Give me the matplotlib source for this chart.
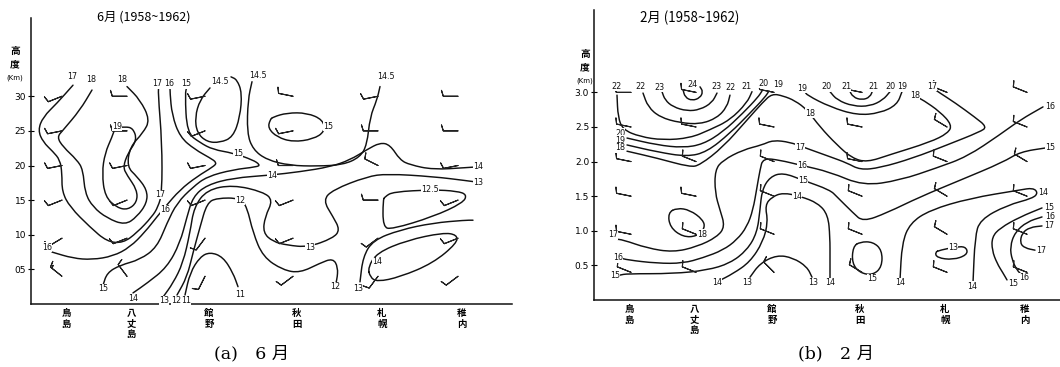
import matplotlib
matplotlib.use("Agg")
import matplotlib.pyplot as plt
from matplotlib.path import Path
from matplotlib.patches import PathPatch

plt.rcParams['font.family'] = ['DejaVu Sans', 'Noto Sans CJK JP']
CJK = ['Noto Sans CJK JP', 'DejaVu Sans']
SERIF = ['DejaVu Serif', 'Noto Sans CJK JP']

# ---------------- data ----------------
STATIONS = ["鳥島", "八丈島", "館野", "秋田", "札幌", "稚内"]
STATION_X = [35, 100, 178, 266, 351, 431]          # position along the section
HEIGHT_TICKS = [0.5, 1.0, 1.5, 2.0, 2.5, 3.0]       # km
JUN_TICK_LABELS = ["05", "10", "15", "20", "25", "30"]
FEB_TICK_LABELS = ["0.5", "1.0", "1.5", "2.0", "2.5", "3.0"]
BARB_H = [0.4, 0.95, 1.5, 2.0, 2.5, 3.0]

# June isolines: (position, height km)
jun_19 = ([84, 81, 74, 71, 74, 86, 97, 106, 106, 96, 92, 97, 106, 102, 94, 84],
          [2.54, 2.41, 2.18, 1.89, 1.55, 1.39, 1.36, 1.47, 1.65, 1.86, 1.98, 2.18, 2.37, 2.54, 2.56, 2.54])
jun_18 = ([61, 49, 32, 26, 32, 46, 52, 54, 62, 76, 94, 106, 116, 116, 106, 96, 99, 112, 119, 109, 96],
          [3.09, 2.80, 2.51, 2.41, 2.27, 2.08, 1.94, 1.60, 1.40, 1.24, 1.14, 1.26, 1.46, 1.65, 1.84, 1.98, 2.27, 2.47, 2.66, 2.95, 3.14])
jun_17 = ([42, 26, 12, 7, 12, 22, 29, 31, 31, 39, 59, 76, 92, 106, 121, 127, 131, 131, 127, 128],
          [3.16, 2.90, 2.70, 2.51, 2.34, 2.20, 2.08, 1.89, 1.62, 1.40, 1.11, 0.90, 0.88, 1.03, 1.26, 1.40, 1.60, 2.33, 3.05, 3.16])
jun_16 = ([21, 42, 61, 82, 99, 114, 126, 134, 149, 166, 182, 186, 179, 164, 149, 141, 139, 139],
          [0.75, 0.66, 0.64, 0.69, 0.82, 1.04, 1.26, 1.40, 1.65, 1.84, 1.98, 2.04, 2.11, 2.23, 2.41, 2.73, 3.05, 3.18])
jun_15 = ([156, 154, 156, 169, 182, 202, 222, 229, 226, 202, 176, 162, 146, 136, 126, 109, 89, 76, 72],
          [3.14, 3.04, 2.47, 2.33, 2.23, 2.18, 2.08, 2.01, 1.98, 1.94, 1.84, 1.69, 1.46, 1.17, 0.82, 0.64, 0.56, 0.45, 0.27])
jun_145a = ([179, 169, 164, 166, 176, 189, 202, 209, 211, 206, 200],
            [3.12, 2.95, 2.70, 2.47, 2.34, 2.33, 2.41, 2.70, 3.05, 3.24, 3.28])
jun_145b = ([221, 217, 216, 222, 236, 259, 286, 312, 329, 336, 339, 346, 349],
            [3.21, 2.95, 2.47, 2.23, 2.08, 2.00, 1.99, 2.01, 2.12, 2.30, 2.70, 2.95, 3.14])
jun_15loop = ([239, 237, 246, 262, 282, 294, 292, 276, 256, 242, 239],
              [2.66, 2.54, 2.41, 2.34, 2.38, 2.49, 2.66, 2.76, 2.76, 2.70, 2.66])
jun_14 = ([102, 116, 136, 149, 156, 162, 176, 202, 239, 269, 299, 319, 336, 349, 359, 369, 379, 402, 436, 446],
          [0.16, 0.30, 0.53, 0.88, 1.26, 1.55, 1.72, 1.82, 1.86, 1.91, 1.98, 2.08, 2.23, 2.33, 2.30, 2.08, 2.01, 1.94, 1.97, 1.98])
jun_13 = ([132, 142, 152, 159, 163, 176, 202, 232, 242, 234, 232, 242, 256, 277, 302, 309, 302, 292, 302, 336, 356, 402, 436, 446],
          [0.10, 0.30, 0.59, 1.03, 1.40, 1.65, 1.72, 1.62, 1.50, 1.26, 1.03, 0.90, 0.85, 0.82, 0.95, 1.07, 1.26, 1.50, 1.65, 1.84, 1.88, 1.84, 1.78, 1.76])
jun_13b = ([329, 332, 342, 369, 402, 434, 442],
           [0.32, 0.68, 0.92, 1.07, 1.17, 1.21, 1.21])
jun_125 = ([352, 352, 361, 402, 432, 436, 426, 402, 362, 354, 352],
           [1.50, 1.11, 1.08, 1.26, 1.46, 1.58, 1.63, 1.65, 1.62, 1.55, 1.50])
jun_14loop = ([339, 346, 369, 402, 426, 426, 412, 376, 346, 337, 339],
              [0.39, 0.32, 0.39, 0.59, 0.88, 1.00, 1.03, 0.92, 0.74, 0.53, 0.39])
jun_12 = ([146, 156, 162, 169, 176, 186, 209, 216, 222, 232, 252, 269, 289, 302, 307, 306, 304],
          [0.13, 0.39, 0.74, 1.11, 1.46, 1.53, 1.53, 1.40, 1.03, 0.68, 0.49, 0.45, 0.59, 0.66, 0.53, 0.35, 0.27])
jun_11 = ([154, 159, 169, 179, 192, 202, 207],
          [0.13, 0.45, 0.68, 0.75, 0.68, 0.45, 0.25])

# February isolines
feb_24 = ([89, 91, 98, 106, 109, 106], [3.04, 2.93, 2.88, 2.92, 3.01, 3.08])
feb_23 = ([68, 71, 79, 93, 106, 118, 123], [3.01, 2.89, 2.79, 2.73, 2.75, 2.85, 2.99])
feb_22a = ([49, 54, 66, 86, 106, 123, 133, 136], [2.99, 2.79, 2.64, 2.56, 2.54, 2.63, 2.79, 2.96])
feb_22b = ([23, 24, 29, 46, 69, 96, 116, 136, 153, 158],
           [2.96, 2.64, 2.46, 2.36, 2.31, 2.34, 2.46, 2.60, 2.85, 3.01])
feb_20a = ([33, 63, 89, 109, 129, 149, 164, 168], [2.34, 2.24, 2.20, 2.25, 2.43, 2.70, 2.93, 3.02])
feb_19a = ([33, 63, 93, 113, 136, 156, 171, 175], [2.24, 2.14, 2.07, 2.14, 2.41, 2.70, 2.93, 3.02])
feb_18 = ([33, 63, 96, 106, 129, 153, 169, 178, 189, 201, 213, 226, 243, 258, 273, 296, 336, 354, 358, 346, 329, 323],
          [2.15, 2.05, 1.92, 1.95, 2.21, 2.60, 2.86, 2.98, 2.95, 2.88, 2.75, 2.50, 2.24, 2.05, 1.99, 2.10, 2.28, 2.41, 2.53, 2.72, 2.89, 2.93])
feb_19b = ([211, 213, 236, 263, 286, 303, 308], [3.01, 2.96, 2.79, 2.67, 2.70, 2.82, 3.01])
feb_20b = ([236, 243, 259, 276, 289, 296], [3.01, 2.89, 2.80, 2.80, 2.89, 3.01])
feb_21 = ([255, 259, 268, 276, 279], [3.04, 2.93, 2.89, 2.93, 3.04])
feb_17 = ([21, 29, 53, 79, 103, 123, 131, 126, 121, 121, 129, 149, 168, 179, 196, 209, 236, 253, 266, 286, 319, 353, 386, 393, 381, 361, 346, 339],
          [0.88, 0.87, 0.75, 0.69, 0.77, 0.91, 1.06, 1.30, 1.55, 1.88, 2.02, 2.17, 2.24, 2.31, 2.28, 2.21, 2.07, 1.98, 1.88, 1.91, 2.05, 2.24, 2.43, 2.50, 2.64, 2.85, 2.99, 3.06])
feb_16 = ([26, 33, 63, 89, 109, 129, 143, 153, 159, 163, 166, 169, 186, 206, 236, 269, 306, 343, 373, 406, 426, 449],
          [0.61, 0.58, 0.53, 0.53, 0.61, 0.72, 0.87, 1.06, 1.30, 1.63, 1.88, 2.05, 2.02, 1.95, 1.85, 1.65, 1.73, 1.91, 2.07, 2.39, 2.60, 2.79])
feb_15 = ([26, 33, 79, 113, 136, 153, 163, 166, 168, 176, 189, 209, 236, 243, 259, 269, 293, 326, 366, 409, 426, 453],
          [0.36, 0.38, 0.38, 0.43, 0.53, 0.72, 0.97, 1.30, 1.59, 1.78, 1.84, 1.73, 1.59, 1.49, 1.26, 1.13, 1.26, 1.49, 1.73, 1.99, 2.14, 2.20])
feb_14a = ([124, 139, 156, 169, 174, 171, 178, 189, 206, 224, 234, 236, 236, 236],
           [0.27, 0.38, 0.55, 0.84, 1.13, 1.37, 1.49, 1.55, 1.50, 1.40, 1.23, 0.91, 0.58, 0.26])
feb_14b = ([306, 308, 316, 336, 376, 426, 439, 444, 439, 413, 386, 381, 379],
           [0.29, 0.82, 1.11, 1.30, 1.47, 1.59, 1.62, 1.55, 1.47, 1.37, 1.16, 0.91, 0.25])
feb_13a = ([156, 166, 183, 199, 213, 218], [0.33, 0.53, 0.65, 0.61, 0.48, 0.33])
feb_13b = ([341, 343, 359, 373, 373, 366, 346, 341], [0.69, 0.61, 0.58, 0.65, 0.75, 0.78, 0.72, 0.69])
feb_15b = ([259, 258, 266, 279, 288, 288, 279, 266, 259], [0.77, 0.53, 0.39, 0.36, 0.48, 0.72, 0.84, 0.84, 0.77])
feb_18b = ([74, 76, 89, 103, 111, 109, 96, 83, 74], [1.26, 1.05, 0.91, 0.92, 1.04, 1.16, 1.30, 1.33, 1.26])
feb_15c = ([448, 426, 406, 398, 398, 403, 409, 413], [1.33, 1.20, 1.04, 0.91, 0.72, 0.53, 0.39, 0.29])
feb_16c = ([448, 433, 421, 416, 418, 423, 428], [1.20, 1.13, 0.98, 0.77, 0.58, 0.43, 0.36])
feb_17c = ([448, 436, 428, 426, 431, 441], [1.07, 1.05, 0.97, 0.82, 0.75, 0.72])

JUN_LINES = [jun_19, jun_18, jun_17, jun_16, jun_15, jun_145a, jun_145b, jun_15loop, jun_14,
             jun_13, jun_13b, jun_125, jun_14loop, jun_12, jun_11]
FEB_LINES = [feb_24, feb_23, feb_22a, feb_22b, feb_20a, feb_19a, feb_18, feb_19b, feb_20b, feb_21,
             feb_17, feb_16, feb_15, feb_14a, feb_14b, feb_13a, feb_13b, feb_15b, feb_18b,
             feb_15c, feb_16c, feb_17c]

# isoline value labels (text, position, height)
JUN_LABELS = [("17", 41, 3.29), ("18", 60, 3.24), ("18", 91, 3.24), ("17", 126, 3.18), ("16", 138, 3.18),
              ("15", 155, 3.18), ("14.5", 189, 3.22), ("14.5", 227, 3.30), ("14.5", 355, 3.28),
              ("19", 86, 2.57), ("17", 129, 1.58), ("16", 134, 1.36), ("15", 207, 2.17),
              ("14", 241, 1.86), ("15", 297, 2.57), ("14", 447, 1.98), ("13", 447, 1.76),
              ("12.5", 399, 1.65), ("12", 209, 1.50), ("13", 279, 0.82), ("14", 346, 0.61),
              ("16", 16, 0.82), ("15", 72, 0.22), ("14", 102, 0.08), ("13", 133, 0.05),
              ("12", 145, 0.05), ("11", 155, 0.05), ("11", 209, 0.13), ("12", 304, 0.25), ("13", 327, 0.22)]
FEB_LABELS = [("22", 23, 3.09), ("22", 47, 3.09), ("23", 65, 3.07), ("24", 98, 3.12), ("23", 122, 3.08),
              ("22", 136, 3.07), ("21", 152, 3.09), ("20", 169, 3.13), ("19", 184, 3.12),
              ("19", 208, 3.06), ("20", 232, 3.08), ("21", 252, 3.08), ("21", 279, 3.08),
              ("20", 296, 3.08), ("19", 308, 3.08), ("18", 321, 2.95), ("17", 338, 3.09),
              ("18", 216, 2.70), ("17", 206, 2.21), ("16", 208, 1.95), ("15", 209, 1.73), ("14", 203, 1.50),
              ("20", 26, 2.41), ("19", 26, 2.31), ("18", 26, 2.20), ("17", 19, 0.94), ("18", 108, 0.95),
              ("16", 24, 0.61), ("15", 21, 0.36), ("14", 123, 0.25), ("13", 153, 0.25), ("13", 219, 0.25),
              ("14", 236, 0.25), ("15", 278, 0.31), ("14", 306, 0.25), ("13", 359, 0.76), ("14", 378, 0.20),
              ("15", 419, 0.24), ("16", 430, 0.32), ("17", 447, 0.71), ("17", 455, 1.08), ("16", 456, 1.21),
              ("15", 455, 1.34), ("14", 449, 1.55), ("15", 456, 2.20), ("16", 456, 2.79)]

# wind barbs (u, v) per station (rows) at BARB_H levels (columns)
JUN_BARB_U = [[10, 10, 10, 10, 10, 10], [6, 10, 10, 10, 10, 10], [4, 6, 10, 10, 10, 10],
              [8, 10, 10, 10, 10, 10], [6, 8, 10, 8, 10, 10], [8, 10, 10, 10, 10, 10]]
JUN_BARB_V = [[-8, 6, 4, 2, 2, 4], [-8, 4, 4, 2, 0, 0], [8, 8, 4, 2, 4, 2],
              [6, 4, 4, 0, 2, -2], [8, 6, 0, -4, 0, 2], [6, 4, 4, 2, 0, 0]]
FEB_BARB_U = [[10, 10, 10, 10, 10, 10], [10, 10, 10, 10, 10, 10], [6, 10, 10, 10, 10, 10],
              [10, 10, 10, 10, 10, 10], [10, 10, 10, 10, 10, 10], [10, 10, 10, 10, 10, 10]]
FEB_BARB_V = [[-4, -2, -2, -2, -2, 0], [-4, -4, -2, -4, -2, -2], [-6, -4, -4, -4, -2, -2],
              [-6, -4, -4, -2, -2, -2], [-4, -6, -6, -4, -6, -4], [-4, -4, -4, -6, -4, -4]]


def smooth_path(xs, hs):
    pts = list(zip(xs, hs))
    closed = pts[0] == pts[-1]
    mid = lambda a, b: ((a[0] + b[0]) / 2.0, (a[1] + b[1]) / 2.0)
    if closed:
        pts = pts[:-1]
        n = len(pts)
        verts = [mid(pts[-1], pts[0])]
        codes = [Path.MOVETO]
        for i in range(n):
            verts += [pts[i], mid(pts[i], pts[(i + 1) % n])]
            codes += [Path.CURVE3, Path.CURVE3]
        return Path(verts, codes)
    n = len(pts)
    verts = [pts[0], mid(pts[0], pts[1])]
    codes = [Path.MOVETO, Path.LINETO]
    for i in range(1, n - 1):
        verts += [pts[i], mid(pts[i], pts[i + 1])]
        codes += [Path.CURVE3, Path.CURVE3]
    verts.append(pts[-1])
    codes.append(Path.LINETO)
    return Path(verts, codes)


def draw_panel(ax, lines, labels, ticklabels, bu, bv, xmax, ymax, barb_shift):
    ax.set_xlim(0, xmax)
    ax.set_ylim(0, ymax)
    for s in ("top", "right"):
        ax.spines[s].set_visible(False)
    for s in ("left", "bottom"):
        ax.spines[s].set_linewidth(1.1)
        ax.spines[s].set_color("#111111")
    ax.set_yticks(HEIGHT_TICKS)
    ax.set_yticklabels(ticklabels, fontsize=6.5)
    ax.tick_params(axis="y", direction="inout", length=4, width=0.8, pad=1.5)
    ax.set_xticks(STATION_X)
    ax.set_xticklabels(["\n".join(list(s)) for s in STATIONS], fontsize=6.8,
                       family=CJK, fontweight="bold", linespacing=1.05)
    ax.tick_params(axis="x", length=0, pad=3)
    for xs, hs in lines:
        ax.add_patch(PathPatch(smooth_path(xs, hs), facecolor="none",
                               edgecolor="#111111", lw=1.05, capstyle="round"))
    for t, x, h in labels:
        ax.text(x, h, t, fontsize=5.8, ha="center", va="center", color="#111111",
                bbox=dict(facecolor="white", edgecolor="none", pad=0.3), zorder=3)
    X, Y, U, V = [], [], [], []
    for i, sx in enumerate(STATION_X):
        for j, h in enumerate(BARB_H):
            X.append(sx + barb_shift)
            Y.append(h)
            U.append(bu[i][j])
            V.append(bv[i][j])
    ax.barbs(X, Y, U, V, length=4.6, linewidth=0.8, color="#222222", pivot="tip", zorder=2)


fig = plt.figure(figsize=(10.6, 3.67), dpi=100)
axL = fig.add_axes([31 / 1060, 63 / 367, 481 / 1060, 286 / 367])
axR = fig.add_axes([594 / 1060, 67 / 367, 466 / 1060, 290 / 367])
draw_panel(axL, JUN_LINES, JUN_LABELS, JUN_TICK_LABELS, JUN_BARB_U, JUN_BARB_V, 481, 4.13, -4)
draw_panel(axR, FEB_LINES, FEB_LABELS, FEB_TICK_LABELS, FEB_BARB_U, FEB_BARB_V, 466, 4.19, 2)

# titles inside panels
fig.text(97 / 1060, 1 - 17 / 367, "6月 (1958~1962)", fontsize=9, family=CJK, va="center", ha="left")
fig.text(640 / 1060, 1 - 18 / 367, "2月 (1958~1962)", fontsize=9.6, family=CJK, va="center", ha="left")

# y-axis titles
for px, py0 in ((15, 51), (585, 54)):
    fig.text(px / 1060, 1 - py0 / 367, "高", fontsize=7, family=CJK, ha="center", va="center", fontweight="bold")
    fig.text(px / 1060, 1 - (py0 + 13) / 367, "度", fontsize=7, family=CJK, ha="center", va="center", fontweight="bold")
    fig.text(px / 1060, 1 - (py0 + 27) / 367, "(Km)", fontsize=5, ha="center", va="center")

# captions
fig.text(252 / 1060, 1 - 354 / 367, "(a)　6 月", fontsize=12.5, family=SERIF, ha="center", va="center")
fig.text(836 / 1060, 1 - 354 / 367, "(b)　2 月", fontsize=12.5, family=SERIF, ha="center", va="center")

fig.savefig("out.png", dpi=100)
